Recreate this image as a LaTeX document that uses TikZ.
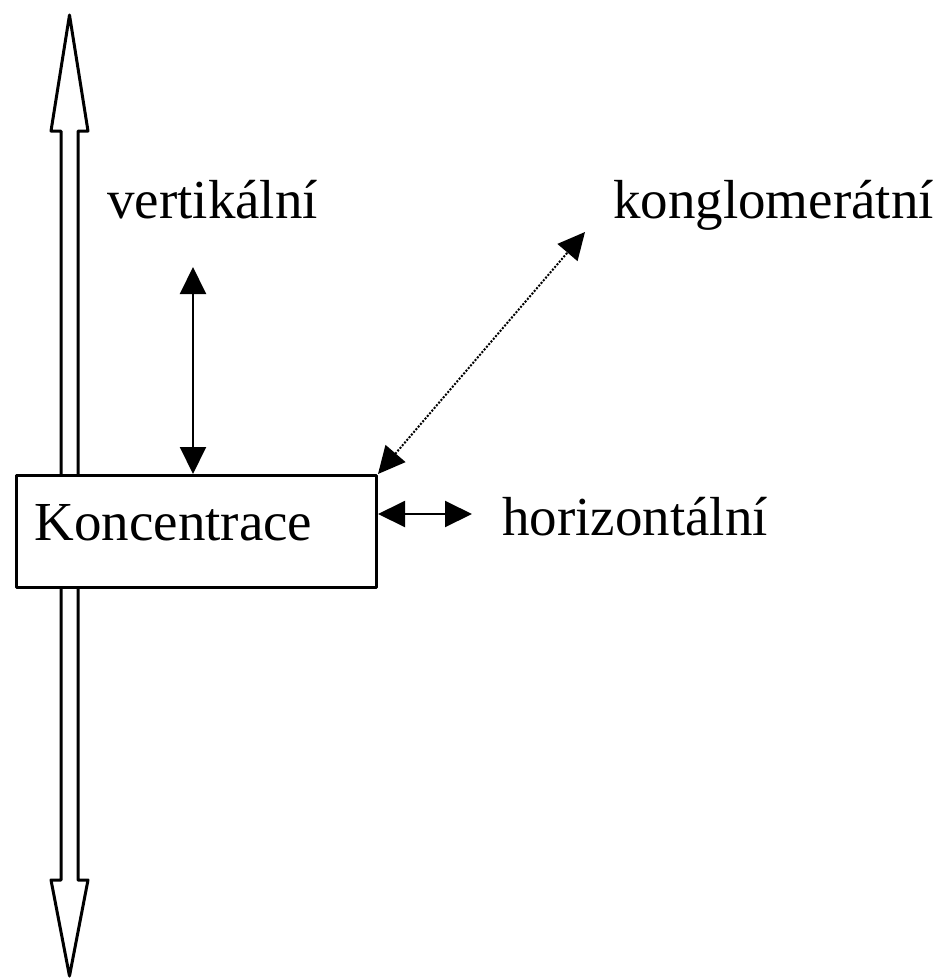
\documentclass[tikz,border=0pt]{standalone}
\usepackage{fontspec}
\setmainfont{Liberation Serif}
\usetikzlibrary{arrows.meta,calc}

\begin{document}
\begin{tikzpicture}[x=1pt,y=-1pt,line join=round,
  kasten/.style={draw,line width=3pt,fill=white,anchor=north west,
    text width=324pt,inner xsep=18pt,align=left,minimum height=112pt,
    text depth=19pt,font=\fontsize{55}{60}\selectfont},
  txt/.style={anchor=base west,inner sep=0pt,font=\fontsize{55}{60}\selectfont},
  hohl/.style={draw,line width=3pt,fill=white},
  dbl/.style={line width=2pt,{Triangle[width=26pt,length=27pt]}-{Triangle[width=26pt,length=27pt]}}]
\useasboundingbox (0,0) rectangle (948,978);
% hollow arrows up and down
\draw[hohl] (61,477)--(61,131)--(51,131)--(69.5,15)--(88,131)--(78,131)--(78,477)--cycle;
\draw[hohl] (61,585)--(61,880)--(51,880)--(69.5,976)--(88,880)--(78,880)--(78,585)--cycle;
\node[kasten] (konc) at (15,474) {Koncentrace};
\node[txt] (vert) at (107,218) {vertikální};
\node[txt] (kongl) at (613,218) {konglomerátní};
\node[txt] (horiz) at (502,535) {horizontální};
\coordinate (vtop) at (193,267);
\coordinate (kend) at (585,232);
\coordinate (hend) at (472,514);
\draw[dbl] (vtop)--(konc.north -| vtop);
\draw[dbl,dash pattern=on 2pt off 1.5pt] (konc.north east)--(kend);
\draw[dbl] (hend -| konc.east)--(hend);
\end{tikzpicture}
\end{document}
